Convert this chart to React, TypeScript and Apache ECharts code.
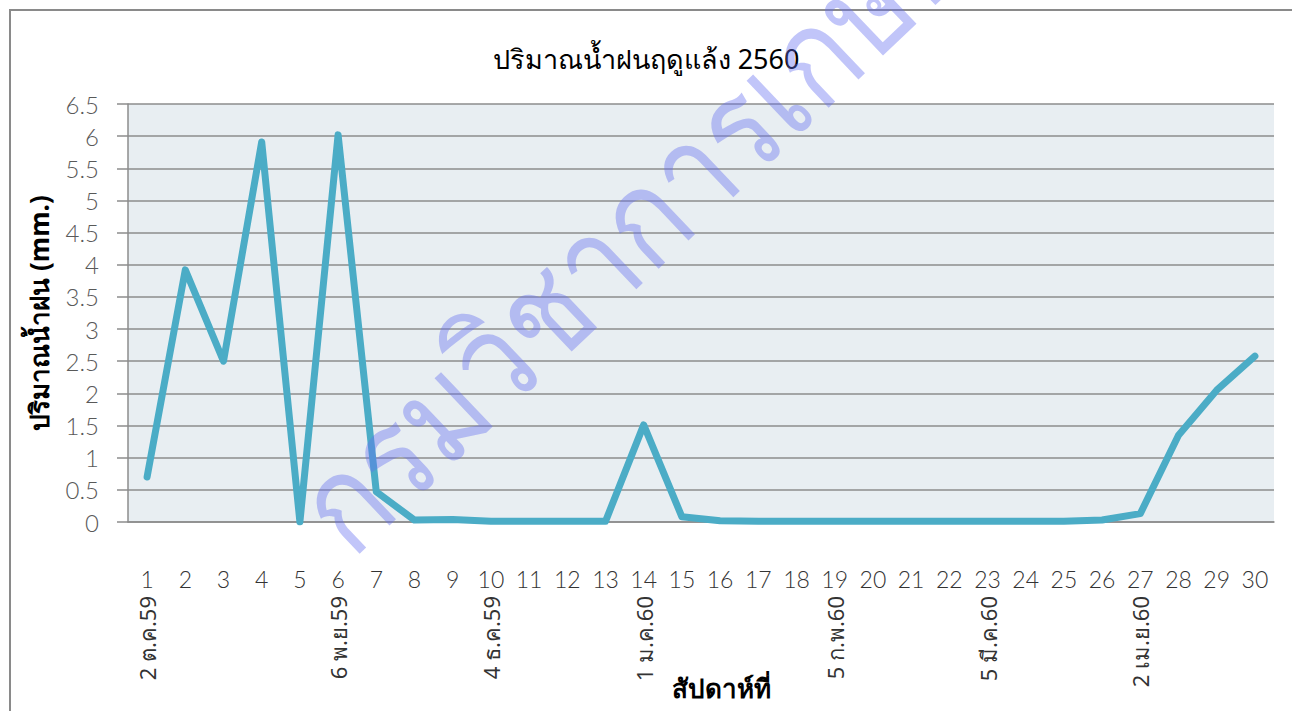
import React, { useEffect, useRef } from "react";
import * as echarts from "echarts";

const weeks: string[] = Array.from({ length: 30 }, (_, i) => String(i + 1));
const dateLabels: string[] = [
  "2 ต.ค.59", "", "", "", "", "6 พ.ย.59", "", "", "", "4 ธ.ค.59",
  "", "", "", "1 ม.ค.60", "", "", "", "", "5 ก.พ.60", "",
  "", "", "5 มี.ค.60", "", "", "", "2 เม.ย.60", "", "", "",
];
const rainfall: number[] = [
  0.7, 3.92, 2.5, 5.91, 0, 6.02, 0.47, 0.03, 0.04, 0.01,
  0.01, 0.01, 0.01, 1.51, 0.08, 0.02, 0.01, 0.01, 0.01, 0.01,
  0.01, 0.01, 0.01, 0.01, 0.01, 0.03, 0.13, 1.35, 2.05, 2.58,
];
const yTicks: string[] = ["0", "0.5", "1", "1.5", "2", "2.5", "3", "3.5", "4", "4.5", "5", "5.5", "6", "6.5"];

const TITLE = "ปริมาณน้ำฝนฤดูแล้ง 2560";
const Y_NAME = "ปริมาณน้ำฝน (mm.)";
const X_NAME = "สัปดาห์ที่";
const WATERMARK = "กรมวิชาการเกษตร";

const FONT = "'Noto Sans', 'DejaVu Sans', sans-serif";
const LIGHT = "Lato, 'Noto Sans', sans-serif";

export default function App() {
  const ref = useRef<HTMLDivElement>(null);
  useEffect(() => {
    document.body.style.margin = "0";
    const chart = echarts.init(ref.current!, null, { renderer: "svg" });
    chart.setOption({
      animation: false,
      backgroundColor: "#ffffff",
      title: {
        text: TITLE,
        left: "center",
        top: 40,
        textStyle: { fontFamily: FONT, fontSize: 27, fontWeight: "normal", color: "#000" },
      },
      grid: { left: 128, right: 18, top: 104, bottom: 189, backgroundColor: "#E8EEF2", show: true, borderWidth: 0 },
      xAxis: [
        {
          type: "category",
          data: weeks,
          boundaryGap: true,
          axisLine: { lineStyle: { color: "#8c8c8c", width: 1.5 } },
          axisTick: { show: false },
          axisLabel: { interval: 0, margin: 45, fontFamily: LIGHT, fontWeight: 300, fontSize: 23, color: "#333" },
        },
        {
          type: "category",
          data: dateLabels,
          position: "bottom",
          boundaryGap: true,
          axisLine: { show: false },
          axisTick: { show: false },
          axisLabel: { interval: 0, rotate: 90, margin: 74, fontFamily: FONT, fontSize: 22, color: "#333" },
        },
      ],
      yAxis: {
        type: "value",
        min: 0,
        max: 6.5,
        interval: 0.5,
        axisLine: { show: true, lineStyle: { color: "#8c8c8c", width: 1.5 } },
        axisTick: { show: true, length: 11, lineStyle: { color: "#8c8c8c", width: 1.5 } },
        splitLine: { show: true, lineStyle: { color: "#8c8c8c", width: 1.5 } },
        axisLabel: {
          margin: 29,
          fontFamily: LIGHT,
          fontWeight: 300,
          fontSize: 24,
          color: "#595959",
          formatter: (v: number) => yTicks[Math.round(v * 2)] ?? String(v),
        },
        name: Y_NAME,
        nameLocation: "middle",
        nameGap: 76,
        nameTextStyle: { fontFamily: FONT, fontSize: 26, fontWeight: "bold", color: "#000" },
      },
      series: [
        {
          type: "line",
          data: rainfall,
          symbol: "none",
          lineStyle: { color: "#4BACC6", width: 7, cap: "round", join: "round" },
        },
      ],
      graphic: [
        {
          type: "rect",
          shape: { x: 10, y: 10, width: 1300, height: 720 },
          style: { fill: "none", stroke: "#8a8a8a", lineWidth: 2 },
          silent: true,
        },
        {
          type: "text",
          x: 721,
          y: 688,
          style: {
            text: X_NAME,
            font: `bold 26px ${FONT}`,
            fill: "#000",
            textAlign: "center",
            textVerticalAlign: "middle",
          },
          silent: true,
        },
        {
          type: "text",
          x: 362,
          y: 572,
          rotation: 0.76,
          scaleX: 0.85,
          z: 100,
          style: {
            text: WATERMARK,
            font: `500 135px ${FONT}`,
            fill: "rgba(100,110,240,0.4)",
            textAlign: "left",
            textVerticalAlign: "bottom",
          },
          silent: true,
        },
      ],
    });
    return () => chart.dispose();
  }, []);
  return <div ref={ref} style={{ width: 1292, height: 711 }} />;
}
